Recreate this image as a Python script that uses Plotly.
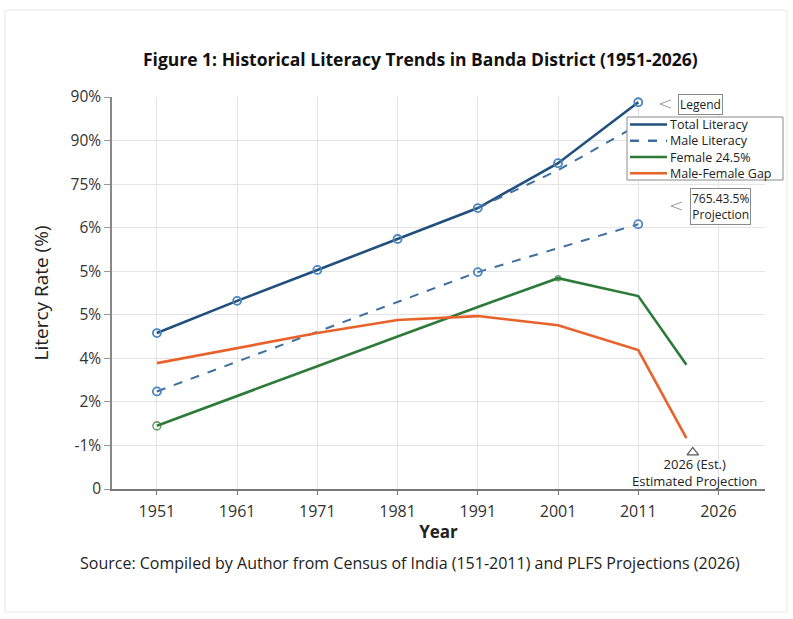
import plotly.graph_objects as go

# ---- data -------------------------------------------------------------
year_labels = ["1951", "1961", "1971", "1981", "1991", "2001", "2011", "2026"]
year_pos = [0, 1, 2, 3, 4, 5, 6, 7]          # evenly spaced category slots
proj_pos = 6.6                               # projection point, plotted before the 2026 slot

y_tick_vals = [0, 10, 20, 30, 40, 50, 60, 70, 80, 90]
y_tick_text = ["0", "-1%", "2%", "4%", "5%", "5%", "6%", "75%", "90%", "90%"]

total_x = [0, 1, 2, 3, 4, 5, 6]
total_y = [35.8, 43.2, 50.3, 57.4, 64.5, 74.8, 88.8]

male_x = [0, 4, 6]
male_y = [22.4, 49.8, 60.8]

male_upper_x = [4, 5, 6]
male_upper_y = [64.5, 73.2, 83.6]

female_x = [0, 1, 2, 3, 4, 5, 6, proj_pos]
female_y = [14.5, 21.4, 28.2, 35.0, 41.8, 48.4, 44.3, 28.5]

gap_x = [0, 1, 2, 3, 4, 5, 6, proj_pos]
gap_y = [28.9, 32.4, 35.8, 38.8, 39.7, 37.6, 31.9, 11.7]

est_marker_x = [6.68]
est_marker_y = [8.4]

legend_names = ["Total Literacy", "Male Literacy", "Female 24.5%", "Male-Female Gap"]

# ---- styling ------------------------------------------------------------
FONT = "Open Sans"
C_TOTAL = "#22507d"
C_TOTAL_MK = "#4c86c0"
C_MALE = "#3f6f9f"
C_FEMALE = "#2e7a38"
C_GAP = "#e8622c"
GRID = "#e4e4e4"
legend_colors = [C_TOTAL, C_MALE, C_FEMALE, C_GAP]
legend_dash = ["solid", "dash", "solid", "solid"]

fig = go.Figure()

fig.add_trace(go.Scatter(
    x=total_x, y=total_y, mode="lines+markers", name=legend_names[0], showlegend=False,
    line=dict(color=C_TOTAL, width=2.6),
    marker=dict(symbol="circle-open", size=8, color=C_TOTAL_MK, line=dict(width=1.8)),
))
fig.add_trace(go.Scatter(
    x=male_upper_x, y=male_upper_y, mode="lines", name=legend_names[1], showlegend=False,
    line=dict(color=C_MALE, width=2, dash="dash"),
))
fig.add_trace(go.Scatter(
    x=male_x, y=male_y, mode="lines+markers", name=legend_names[1], showlegend=False,
    line=dict(color=C_MALE, width=2, dash="dash"),
    marker=dict(symbol="circle-open", size=8, color=C_TOTAL_MK, line=dict(width=1.8)),
))
fig.add_trace(go.Scatter(
    x=female_x, y=female_y, mode="lines+markers", name=legend_names[2], showlegend=False,
    line=dict(color=C_FEMALE, width=2.6),
    marker=dict(symbol="circle-open", size=[8, 0, 0, 0, 0, 5, 0, 0],
                color=C_FEMALE, line=dict(width=1.6)),
))
fig.add_trace(go.Scatter(
    x=gap_x, y=gap_y, mode="lines", name=legend_names[3], showlegend=False,
    line=dict(color=C_GAP, width=2.6),
))
fig.add_trace(go.Scatter(
    x=est_marker_x, y=est_marker_y, mode="markers", showlegend=False,
    marker=dict(symbol="triangle-up-open", size=10, color="#555555", line=dict(width=1.2)),
))

# ---- layout ---------------------------------------------------------------
L, R, T, B = 112, 28, 97, 130
W, H = 793, 619
pw, ph = W - L - R, H - T - B


def px_to_paper(px, py):
    return (px - L) / pw, (H - B - py) / ph


fig.update_layout(
    width=W, height=H,
    margin=dict(l=L, r=R, t=T, b=B),
    paper_bgcolor="white", plot_bgcolor="white",
    font=dict(family=FONT, color="#222222"),
    showlegend=False,
    title=dict(text="<b>Figure 1: Historical Literacy Trends in Banda District (1951-2026)</b>",
               x=0.53, xanchor="center", y=1 - 60 / H, yanchor="middle",
               font=dict(size=17.5, color="#111111", family=FONT)),
    xaxis=dict(range=[-0.56, 7.58], tickmode="array", tickvals=year_pos, ticktext=year_labels,
               showgrid=True, gridcolor=GRID, gridwidth=1, zeroline=False,
               showline=True, linecolor="#777777", linewidth=1.5,
               ticks="outside", ticklen=4, tickcolor="#777777",
               ticklabelstandoff=3,
               tickfont=dict(size=16, color="#333333", family=FONT),
               title=dict(text="<b>Year</b>", standoff=5,
                          font=dict(size=17, color="#222222", family=FONT))),
    yaxis=dict(range=[0, 90], tickmode="array", tickvals=y_tick_vals, ticktext=y_tick_text,
               showgrid=True, gridcolor=GRID, gridwidth=1, zeroline=False,
               showline=True, linecolor="#888888", linewidth=1.5,
               ticks="outside", ticklen=6, tickcolor="#999999",
               tickfont=dict(size=15.5, color="#333333", family=FONT),
               title=dict(text="Litercy Rate (%)", standoff=17,
                          font=dict(size=19, color="#222222", family=FONT))),
)

# source line
fig.add_annotation(
    text="Source: Compiled by Author from Census of India (151-2011) and PLFS Projections (2026)",
    xref="paper", yref="paper", x=px_to_paper(410, 0)[0], y=px_to_paper(0, 563)[1],
    xanchor="center", yanchor="middle", showarrow=False,
    font=dict(size=16, color="#222222", family=FONT),
)

# legend box: frame, line samples and one multi-line label block
ROW0, ROW_STEP = 124.5, 16.25
lx0, ly0 = px_to_paper(627, 117)
lx1, ly1 = px_to_paper(783, 180)
fig.add_shape(type="rect", xref="paper", yref="paper", x0=lx0, y0=ly1, x1=lx1, y1=ly0,
              fillcolor="white", line=dict(color="#8a8a8a", width=1), layer="above")
for i, (color, dash) in enumerate(zip(legend_colors, legend_dash)):
    row_y = ROW0 + i * ROW_STEP
    sx0, sy = px_to_paper(630, row_y)
    sx1, _ = px_to_paper(667, row_y)
    fig.add_shape(type="line", xref="paper", yref="paper", x0=sx0, y0=sy, x1=sx1, y1=sy,
                  line=dict(color=color, width=2.4, dash=dash), layer="above")
block_mid = ROW0 + ROW_STEP * (len(legend_names) - 1) / 2
fig.add_annotation(text="<br>".join(legend_names), xref="paper", yref="paper",
                   x=px_to_paper(668, 0)[0], y=px_to_paper(0, block_mid)[1],
                   xanchor="left", yanchor="middle", align="left",
                   showarrow=False, font=dict(size=12.5, color="#222222", family=FONT))

# callout boxes
fig.add_annotation(
    text="Legend", xref="paper", yref="paper",
    x=px_to_paper(700, 0)[0], y=px_to_paper(0, 104)[1], xanchor="center", yanchor="middle",
    showarrow=False, bgcolor="white", bordercolor="#8a8a8a", borderwidth=1, borderpad=1,
    font=dict(size=12, color="#222222", family=FONT),
)
fig.add_annotation(
    text="765.43.5%<br>Projection", xref="paper", yref="paper",
    x=px_to_paper(720, 0)[0], y=px_to_paper(0, 206)[1], xanchor="center", yanchor="middle",
    showarrow=False, bgcolor="white", bordercolor="#8a8a8a", borderwidth=1, borderpad=1,
    font=dict(size=12, color="#222222", family=FONT),
)
fig.add_annotation(
    text="2026 (Est.)<br>Estimated Projection", xref="x", yref="y",
    x=6.7, y=3.8, xanchor="center", yanchor="middle", showarrow=False,
    font=dict(size=13, color="#222222", family=FONT),
)

# callout tails
for (bx, by) in [(671, 104), (682, 206)]:
    x0, y0 = px_to_paper(bx, by - 4)
    x1, y1 = px_to_paper(bx - 11, by)
    x2, y2 = px_to_paper(bx, by + 4)
    fig.add_shape(type="path", xref="paper", yref="paper",
                  path=f"M {x0} {y0} L {x1} {y1} L {x2} {y2}",
                  line=dict(color="#9a9a9a", width=1))

# faint outer frame
fx0, fy0 = px_to_paper(5, 10)
fx1, fy1 = px_to_paper(787, 612)
fig.add_shape(type="rect", xref="paper", yref="paper", x0=fx0, y0=fy1, x1=fx1, y1=fy0,
              line=dict(color="#e6e6e6", width=1), layer="below")

fig.write_html("out.html")
